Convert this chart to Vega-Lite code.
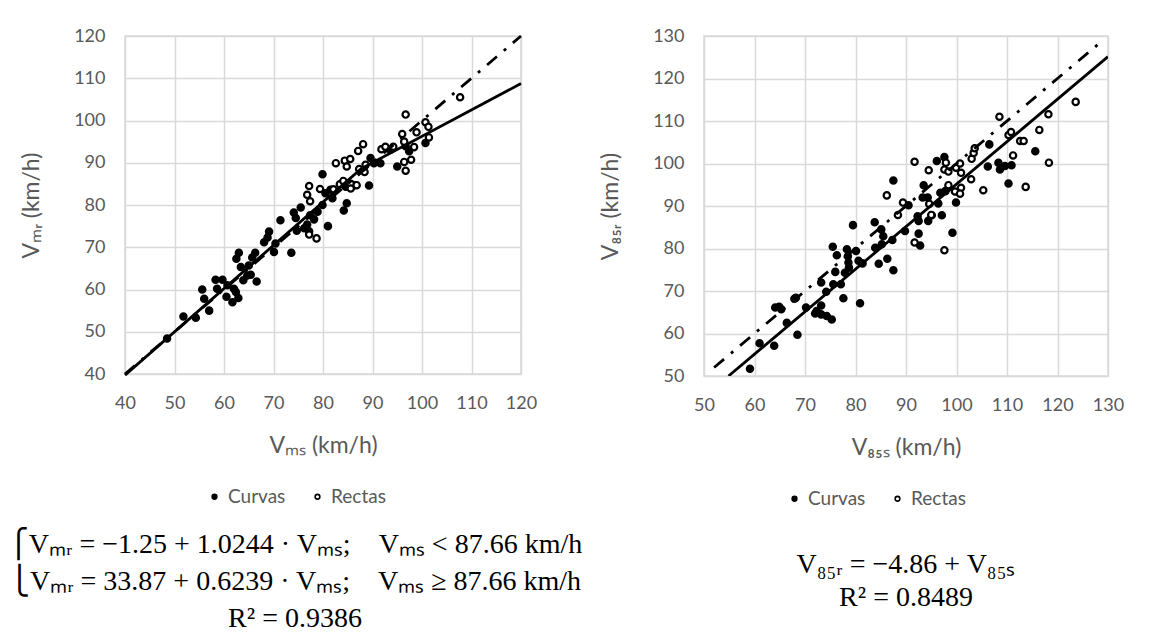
{
  "$schema": "https://vega.github.io/schema/vega-lite/v6.json",
  "background": "#ffffff",
  "padding": {"left": 6, "top": 26, "right": 5, "bottom": 5},
  "spacing": 14,
  "datasets": {
    "left_pts": [
      {"x": 48.5, "y": 48.4, "tipo": "Curvas"}, {"x": 51.8, "y": 53.6, "tipo": "Curvas"},
      {"x": 54.3, "y": 53.3, "tipo": "Curvas"}, {"x": 55.6, "y": 60.0, "tipo": "Curvas"},
      {"x": 56.0, "y": 57.8, "tipo": "Curvas"}, {"x": 57.0, "y": 55.0, "tipo": "Curvas"},
      {"x": 58.3, "y": 62.3, "tipo": "Curvas"}, {"x": 58.6, "y": 60.2, "tipo": "Curvas"},
      {"x": 59.7, "y": 62.3, "tipo": "Curvas"}, {"x": 60.5, "y": 58.3, "tipo": "Curvas"},
      {"x": 60.7, "y": 61.0, "tipo": "Curvas"}, {"x": 61.7, "y": 57.0, "tipo": "Curvas"},
      {"x": 62.0, "y": 60.2, "tipo": "Curvas"}, {"x": 62.5, "y": 67.3, "tipo": "Curvas"},
      {"x": 63.0, "y": 68.7, "tipo": "Curvas"}, {"x": 62.9, "y": 58.0, "tipo": "Curvas"},
      {"x": 62.4, "y": 59.4, "tipo": "Curvas"}, {"x": 63.4, "y": 65.3, "tipo": "Curvas"},
      {"x": 63.9, "y": 62.2, "tipo": "Curvas"}, {"x": 64.7, "y": 63.3, "tipo": "Curvas"},
      {"x": 65.4, "y": 63.5, "tipo": "Curvas"}, {"x": 65.7, "y": 67.6, "tipo": "Curvas"},
      {"x": 66.3, "y": 68.7, "tipo": "Curvas"}, {"x": 66.6, "y": 61.9, "tipo": "Curvas"},
      {"x": 65.0, "y": 65.7, "tipo": "Curvas"}, {"x": 68.1, "y": 71.2, "tipo": "Curvas"},
      {"x": 69.1, "y": 73.7, "tipo": "Curvas"}, {"x": 68.8, "y": 72.3, "tipo": "Curvas"},
      {"x": 70.1, "y": 68.9, "tipo": "Curvas"}, {"x": 70.4, "y": 70.9, "tipo": "Curvas"},
      {"x": 71.4, "y": 76.4, "tipo": "Curvas"}, {"x": 73.6, "y": 68.7, "tipo": "Curvas"},
      {"x": 74.1, "y": 78.2, "tipo": "Curvas"}, {"x": 74.5, "y": 76.9, "tipo": "Curvas"},
      {"x": 74.7, "y": 73.9, "tipo": "Curvas"}, {"x": 75.5, "y": 79.4, "tipo": "Curvas"},
      {"x": 76.2, "y": 74.5, "tipo": "Curvas"}, {"x": 76.8, "y": 75.4, "tipo": "Curvas"},
      {"x": 77.2, "y": 73.8, "tipo": "Curvas"}, {"x": 77.4, "y": 77.6, "tipo": "Curvas"},
      {"x": 78.2, "y": 76.6, "tipo": "Curvas"}, {"x": 78.9, "y": 78.4, "tipo": "Curvas"},
      {"x": 79.9, "y": 87.3, "tipo": "Curvas"}, {"x": 79.9, "y": 80.0, "tipo": "Curvas"},
      {"x": 80.5, "y": 82.8, "tipo": "Curvas"}, {"x": 81.0, "y": 75.0, "tipo": "Curvas"},
      {"x": 81.5, "y": 83.6, "tipo": "Curvas"}, {"x": 81.9, "y": 81.6, "tipo": "Curvas"},
      {"x": 84.2, "y": 78.7, "tipo": "Curvas"}, {"x": 84.8, "y": 80.4, "tipo": "Curvas"},
      {"x": 84.6, "y": 84.3, "tipo": "Curvas"}, {"x": 86.3, "y": 84.7, "tipo": "Curvas"},
      {"x": 89.3, "y": 84.6, "tipo": "Curvas"}, {"x": 89.6, "y": 91.1, "tipo": "Curvas"},
      {"x": 90.3, "y": 89.9, "tipo": "Curvas"}, {"x": 91.6, "y": 89.9, "tipo": "Curvas"},
      {"x": 93.6, "y": 93.1, "tipo": "Curvas"}, {"x": 95.0, "y": 89.1, "tipo": "Curvas"},
      {"x": 96.7, "y": 93.9, "tipo": "Curvas"}, {"x": 97.4, "y": 92.7, "tipo": "Curvas"},
      {"x": 100.7, "y": 94.7, "tipo": "Curvas"},
      {"x": 77.2, "y": 84.5, "tipo": "Rectas"}, {"x": 76.8, "y": 82.4, "tipo": "Rectas"},
      {"x": 77.4, "y": 80.9, "tipo": "Rectas"}, {"x": 77.2, "y": 73.0, "tipo": "Rectas"},
      {"x": 78.7, "y": 72.1, "tipo": "Rectas"}, {"x": 79.4, "y": 83.8, "tipo": "Rectas"},
      {"x": 82.1, "y": 83.7, "tipo": "Rectas"}, {"x": 82.6, "y": 89.9, "tipo": "Rectas"},
      {"x": 83.4, "y": 84.9, "tipo": "Rectas"}, {"x": 84.1, "y": 85.7, "tipo": "Rectas"},
      {"x": 84.4, "y": 90.5, "tipo": "Rectas"}, {"x": 84.8, "y": 89.1, "tipo": "Rectas"},
      {"x": 85.5, "y": 90.9, "tipo": "Rectas"}, {"x": 85.6, "y": 85.0, "tipo": "Rectas"},
      {"x": 85.6, "y": 83.9, "tipo": "Rectas"}, {"x": 86.8, "y": 84.7, "tipo": "Rectas"},
      {"x": 87.1, "y": 92.8, "tipo": "Rectas"}, {"x": 87.3, "y": 88.5, "tipo": "Rectas"},
      {"x": 88.1, "y": 94.4, "tipo": "Rectas"}, {"x": 88.4, "y": 87.8, "tipo": "Rectas"},
      {"x": 88.6, "y": 89.5, "tipo": "Rectas"}, {"x": 91.8, "y": 93.2, "tipo": "Rectas"},
      {"x": 92.6, "y": 93.8, "tipo": "Rectas"}, {"x": 94.2, "y": 93.8, "tipo": "Rectas"},
      {"x": 96.0, "y": 96.8, "tipo": "Rectas"}, {"x": 96.4, "y": 95.0, "tipo": "Rectas"},
      {"x": 96.7, "y": 101.4, "tipo": "Rectas"}, {"x": 96.4, "y": 90.2, "tipo": "Rectas"},
      {"x": 96.7, "y": 88.1, "tipo": "Rectas"}, {"x": 97.8, "y": 90.7, "tipo": "Rectas"},
      {"x": 98.4, "y": 93.7, "tipo": "Rectas"}, {"x": 98.9, "y": 97.2, "tipo": "Rectas"},
      {"x": 100.7, "y": 99.6, "tipo": "Rectas"}, {"x": 101.3, "y": 98.5, "tipo": "Rectas"},
      {"x": 101.4, "y": 96.0, "tipo": "Rectas"}, {"x": 107.7, "y": 105.5, "tipo": "Rectas"}
    ],
    "right_pts": [
      {"x": 59.1, "y": 51.7, "tipo": "Curvas"}, {"x": 61.0, "y": 57.7, "tipo": "Curvas"},
      {"x": 63.9, "y": 57.1, "tipo": "Curvas"}, {"x": 64.1, "y": 66.1, "tipo": "Curvas"},
      {"x": 64.9, "y": 66.3, "tipo": "Curvas"}, {"x": 65.3, "y": 65.7, "tipo": "Curvas"},
      {"x": 66.4, "y": 62.5, "tipo": "Curvas"}, {"x": 67.9, "y": 68.2, "tipo": "Curvas"},
      {"x": 68.2, "y": 68.4, "tipo": "Curvas"}, {"x": 68.5, "y": 59.7, "tipo": "Curvas"},
      {"x": 70.2, "y": 66.1, "tipo": "Curvas"}, {"x": 72.0, "y": 64.7, "tipo": "Curvas"},
      {"x": 72.3, "y": 65.3, "tipo": "Curvas"}, {"x": 73.2, "y": 66.6, "tipo": "Curvas"},
      {"x": 73.2, "y": 72.0, "tipo": "Curvas"}, {"x": 73.2, "y": 64.5, "tipo": "Curvas"},
      {"x": 74.2, "y": 69.8, "tipo": "Curvas"}, {"x": 74.3, "y": 64.1, "tipo": "Curvas"},
      {"x": 75.3, "y": 63.3, "tipo": "Curvas"}, {"x": 75.5, "y": 80.4, "tipo": "Curvas"},
      {"x": 75.6, "y": 71.6, "tipo": "Curvas"}, {"x": 76.0, "y": 74.5, "tipo": "Curvas"},
      {"x": 76.3, "y": 78.4, "tipo": "Curvas"}, {"x": 77.1, "y": 71.6, "tipo": "Curvas"},
      {"x": 77.6, "y": 68.3, "tipo": "Curvas"}, {"x": 77.9, "y": 74.3, "tipo": "Curvas"},
      {"x": 78.3, "y": 79.8, "tipo": "Curvas"}, {"x": 78.5, "y": 78.2, "tipo": "Curvas"},
      {"x": 78.6, "y": 76.7, "tipo": "Curvas"}, {"x": 78.7, "y": 75.5, "tipo": "Curvas"},
      {"x": 79.5, "y": 85.5, "tipo": "Curvas"}, {"x": 80.1, "y": 79.4, "tipo": "Curvas"},
      {"x": 80.6, "y": 77.1, "tipo": "Curvas"}, {"x": 80.9, "y": 67.1, "tipo": "Curvas"},
      {"x": 81.4, "y": 76.5, "tipo": "Curvas"}, {"x": 83.8, "y": 86.2, "tipo": "Curvas"},
      {"x": 83.9, "y": 80.2, "tipo": "Curvas"}, {"x": 84.6, "y": 76.4, "tipo": "Curvas"},
      {"x": 85.1, "y": 84.5, "tipo": "Curvas"}, {"x": 85.5, "y": 82.9, "tipo": "Curvas"},
      {"x": 85.2, "y": 81.0, "tipo": "Curvas"}, {"x": 86.3, "y": 77.6, "tipo": "Curvas"},
      {"x": 87.3, "y": 82.0, "tipo": "Curvas"}, {"x": 87.5, "y": 96.0, "tipo": "Curvas"},
      {"x": 87.5, "y": 74.9, "tipo": "Curvas"}, {"x": 89.8, "y": 84.1, "tipo": "Curvas"},
      {"x": 90.5, "y": 90.2, "tipo": "Curvas"}, {"x": 92.3, "y": 87.6, "tipo": "Curvas"},
      {"x": 92.5, "y": 86.5, "tipo": "Curvas"}, {"x": 92.5, "y": 83.5, "tipo": "Curvas"},
      {"x": 92.8, "y": 80.7, "tipo": "Curvas"}, {"x": 93.3, "y": 92.0, "tipo": "Curvas"},
      {"x": 93.5, "y": 94.9, "tipo": "Curvas"}, {"x": 94.3, "y": 92.0, "tipo": "Curvas"},
      {"x": 94.4, "y": 86.5, "tipo": "Curvas"}, {"x": 95.1, "y": 87.8, "tipo": "Curvas"},
      {"x": 96.1, "y": 100.6, "tipo": "Curvas"}, {"x": 96.4, "y": 90.6, "tipo": "Curvas"},
      {"x": 96.8, "y": 93.1, "tipo": "Curvas"}, {"x": 97.1, "y": 87.8, "tipo": "Curvas"},
      {"x": 97.6, "y": 101.5, "tipo": "Curvas"}, {"x": 97.8, "y": 93.5, "tipo": "Curvas"},
      {"x": 99.2, "y": 83.7, "tipo": "Curvas"}, {"x": 99.9, "y": 90.8, "tipo": "Curvas"},
      {"x": 106.5, "y": 104.5, "tipo": "Curvas"}, {"x": 106.2, "y": 99.3, "tipo": "Curvas"},
      {"x": 108.3, "y": 100.2, "tipo": "Curvas"}, {"x": 108.6, "y": 98.6, "tipo": "Curvas"},
      {"x": 109.6, "y": 99.4, "tipo": "Curvas"}, {"x": 110.3, "y": 95.3, "tipo": "Curvas"},
      {"x": 110.9, "y": 99.6, "tipo": "Curvas"}, {"x": 115.6, "y": 102.9, "tipo": "Curvas"},
      {"x": 86.2, "y": 92.5, "tipo": "Rectas"}, {"x": 88.4, "y": 87.9, "tipo": "Rectas"},
      {"x": 89.4, "y": 90.8, "tipo": "Rectas"}, {"x": 91.7, "y": 100.4, "tipo": "Rectas"},
      {"x": 91.7, "y": 81.4, "tipo": "Rectas"}, {"x": 94.5, "y": 98.4, "tipo": "Rectas"},
      {"x": 94.6, "y": 90.5, "tipo": "Rectas"}, {"x": 95.0, "y": 87.9, "tipo": "Rectas"},
      {"x": 97.6, "y": 79.6, "tipo": "Rectas"}, {"x": 97.6, "y": 98.6, "tipo": "Rectas"},
      {"x": 97.9, "y": 100.2, "tipo": "Rectas"}, {"x": 98.4, "y": 98.1, "tipo": "Rectas"},
      {"x": 98.4, "y": 94.9, "tipo": "Rectas"}, {"x": 99.9, "y": 99.0, "tipo": "Rectas"},
      {"x": 99.7, "y": 93.4, "tipo": "Rectas"}, {"x": 100.7, "y": 100.0, "tipo": "Rectas"},
      {"x": 100.9, "y": 97.8, "tipo": "Rectas"}, {"x": 100.9, "y": 94.3, "tipo": "Rectas"},
      {"x": 100.7, "y": 92.9, "tipo": "Rectas"}, {"x": 102.9, "y": 96.3, "tipo": "Rectas"},
      {"x": 103.0, "y": 101.1, "tipo": "Rectas"}, {"x": 103.4, "y": 102.5, "tipo": "Rectas"},
      {"x": 103.6, "y": 103.6, "tipo": "Rectas"}, {"x": 105.3, "y": 93.7, "tipo": "Rectas"},
      {"x": 108.5, "y": 111.0, "tipo": "Rectas"}, {"x": 110.3, "y": 106.7, "tipo": "Rectas"},
      {"x": 110.8, "y": 107.4, "tipo": "Rectas"}, {"x": 111.2, "y": 101.9, "tipo": "Rectas"},
      {"x": 112.6, "y": 105.3, "tipo": "Rectas"}, {"x": 113.3, "y": 105.3, "tipo": "Rectas"},
      {"x": 113.7, "y": 94.5, "tipo": "Rectas"}, {"x": 116.4, "y": 107.9, "tipo": "Rectas"},
      {"x": 118.2, "y": 111.6, "tipo": "Rectas"}, {"x": 118.3, "y": 100.2, "tipo": "Rectas"},
      {"x": 123.6, "y": 114.5, "tipo": "Rectas"}
    ],
    "left_fit": [{"x": 40, "y": 39.73}, {"x": 87.66, "y": 88.55}, {"x": 120, "y": 108.74}],
    "left_id": [{"x": 40, "y": 40}, {"x": 120, "y": 120}],
    "right_fit": [{"x": 54.86, "y": 50}, {"x": 130, "y": 125.14}],
    "right_id": [{"x": 52, "y": 52}, {"x": 128, "y": 128}]
  },
  "hconcat": [
    {
      "width": 396,
      "height": 338,
      "title": {
        "text": ["⎧Vₘᵣ = −1.25 + 1.0244 · Vₘₛ;\u00a0\u00a0\u00a0\u00a0Vₘₛ < 87.66 km/h", "⎩Vₘᵣ = 33.87 + 0.6239 · Vₘₛ;\u00a0\u00a0\u00a0\u00a0Vₘₛ ≥ 87.66 km/h", "R² = 0.9386"],
        "orient": "bottom",
        "anchor": "middle",
        "font": "Liberation Serif",
        "fontSize": 28,
        "fontWeight": "normal",
        "color": "#000000",
        "lineHeight": 37,
        "offset": 24,
        "dx": -28
      },
      "layer": [
        {
          "data": {"name": "left_pts"},
          "mark": {"type": "point", "shape": "circle", "filled": true, "stroke": "#000000", "strokeWidth": 2.2, "size": 40, "opacity": 1},
          "encoding": {
            "x": {"field": "x", "type": "quantitative", "scale": {"domain": [40, 120], "nice": false, "zero": false}, "axis": {"values": [40, 50, 60, 70, 80, 90, 100, 110, 120], "title": "Vₘₛ (km/h)"}},
            "y": {"field": "y", "type": "quantitative", "scale": {"domain": [40, 120], "nice": false, "zero": false}, "axis": {"values": [40, 50, 60, 70, 80, 90, 100, 110, 120], "title": "Vₘᵣ (km/h)"}},
            "fill": {"field": "tipo", "type": "nominal", "scale": {"domain": ["Curvas", "Rectas"], "range": ["#000000", "#ffffff"]}, "legend": {"title": null, "orient": "none", "direction": "horizontal", "legendX": 80, "legendY": 451}}
          }
        },
        {
          "data": {"name": "left_id"},
          "mark": {"type": "line", "color": "#000000", "strokeWidth": 2.8, "strokeDash": [13, 9, 3, 9]},
          "encoding": {
            "x": {"field": "x", "type": "quantitative"},
            "y": {"field": "y", "type": "quantitative"}
          }
        },
        {
          "data": {"name": "left_fit"},
          "mark": {"type": "line", "color": "#000000", "strokeWidth": 2.8},
          "encoding": {
            "x": {"field": "x", "type": "quantitative"},
            "y": {"field": "y", "type": "quantitative"}
          }
        }
      ]
    },
    {
      "width": 404,
      "height": 340,
      "title": {
        "text": ["V₈₅ᵣ = −4.86 + V₈₅ₛ", "R² = 0.8489"],
        "orient": "bottom",
        "anchor": "middle",
        "font": "Liberation Serif",
        "fontSize": 28,
        "fontWeight": "normal",
        "color": "#000000",
        "lineHeight": 33,
        "offset": 42,
        "dx": 0
      },
      "layer": [
        {
          "data": {"name": "right_pts"},
          "mark": {"type": "point", "shape": "circle", "filled": true, "stroke": "#000000", "strokeWidth": 2.2, "size": 40, "opacity": 1},
          "encoding": {
            "x": {"field": "x", "type": "quantitative", "scale": {"domain": [50, 130], "nice": false, "zero": false}, "axis": {"values": [50, 60, 70, 80, 90, 100, 110, 120, 130], "title": "V₈₅ₛ (km/h)"}},
            "y": {"field": "y", "type": "quantitative", "scale": {"domain": [50, 130], "nice": false, "zero": false}, "axis": {"values": [50, 60, 70, 80, 90, 100, 110, 120, 130], "title": "V₈₅ᵣ (km/h)"}},
            "fill": {"field": "tipo", "type": "nominal", "scale": {"domain": ["Curvas", "Rectas"], "range": ["#000000", "#ffffff"]}, "legend": {"title": null, "orient": "none", "direction": "horizontal", "legendX": 81, "legendY": 453}}
          }
        },
        {
          "data": {"name": "right_id"},
          "mark": {"type": "line", "color": "#000000", "strokeWidth": 2.8, "strokeDash": [13, 9, 3, 9], "clip": true},
          "encoding": {
            "x": {"field": "x", "type": "quantitative"},
            "y": {"field": "y", "type": "quantitative"}
          }
        },
        {
          "data": {"name": "right_fit"},
          "mark": {"type": "line", "color": "#000000", "strokeWidth": 2.8, "clip": true},
          "encoding": {
            "x": {"field": "x", "type": "quantitative"},
            "y": {"field": "y", "type": "quantitative"}
          }
        }
      ]
    }
  ],
  "resolve": {"scale": {"fill": "independent"}},
  "config": {
    "font": "Lato",
    "view": {"stroke": "#d9d9d9", "strokeWidth": 1.5},
    "axis": {
      "grid": true,
      "gridColor": "#d9d9d9",
      "gridWidth": 1.5,
      "domain": false,
      "ticks": false,
      "labelFlush": false,
      "labelColor": "#595959",
      "labelFont": "Lato",
      "labelFontSize": 18,
      "titleColor": "#595959",
      "titleFont": "Lato",
      "titleFontSize": 23,
      "titleFontWeight": "normal"
    },
    "axisX": {"labelPadding": 20, "titlePadding": 22},
    "axisY": {"labelPadding": 20, "titlePadding": 30},
    "legend": {
      "labelColor": "#595959",
      "labelFont": "Lato",
      "labelFontSize": 19,
      "symbolSize": 22,
      "symbolStrokeColor": "#000000",
      "symbolStrokeWidth": 1.6,
      "columnPadding": 22
    }
  }
}
